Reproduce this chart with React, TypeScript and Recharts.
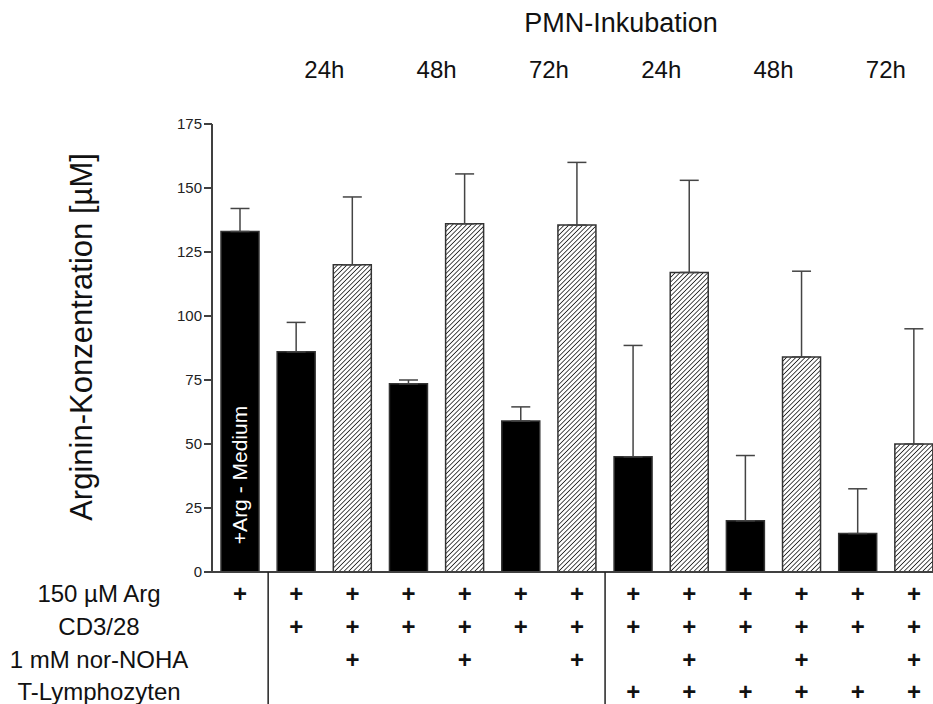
import React from 'react'
import { BarChart, Bar, XAxis, YAxis, Cell, ErrorBar, LabelList } from 'recharts'

const categories = [
  'Medium',
  'CD3/28 24h', 'CD3/28 + NOHA 24h',
  'CD3/28 48h', 'CD3/28 + NOHA 48h',
  'CD3/28 72h', 'CD3/28 + NOHA 72h',
  'T 24h', 'T + NOHA 24h',
  'T 48h', 'T + NOHA 48h',
  'T 72h', 'T + NOHA 72h',
]
const values = [133, 86, 120, 73.5, 136, 59, 135.5, 45, 117, 20, 84, 15, 50]
const errors = [9, 11.5, 26.5, 1.5, 19.5, 5.5, 24.5, 43.5, 36, 25.5, 33.5, 17.5, 45]
const hatched = [false, false, true, false, true, false, true, false, true, false, true, false, true]
const notes = ['+Arg - Medium', '', '', '', '', '', '', '', '', '', '', '', '']

const hourLabels = ['24h', '48h', '72h', '24h', '48h', '72h']
const yTicks = [0, 25, 50, 75, 100, 125, 150, 175]

const rowLabels = ['150 µM Arg', 'CD3/28', '1 mM nor-NOHA', 'T-Lymphozyten']
const rowArg = [1, 1, 1, 1, 1, 1, 1, 1, 1, 1, 1, 1, 1]
const rowCd3 = [0, 1, 1, 1, 1, 1, 1, 1, 1, 1, 1, 1, 1]
const rowNoha = [0, 0, 1, 0, 1, 0, 1, 0, 1, 0, 1, 0, 1]
const rowTLym = [0, 0, 0, 0, 0, 0, 0, 1, 1, 1, 1, 1, 1]
const rows = [rowArg, rowCd3, rowNoha, rowTLym]
const separatorsBefore = [1, 7]

const data = categories.map((name, i) => ({
  name,
  value: values[i],
  errRange: [0, errors[i]],
  note: notes[i],
}))

// layout
const FONT = '"Liberation Sans", Arial, Helvetica, sans-serif'
const CHART_W = 948
const CHART_H = 704
const Y_AXIS_W = 212
const MARGIN_R = 6
const TOP_H = 124
const BOTTOM_H = 132
const BAND = (CHART_W - Y_AXIS_W - MARGIN_R) / categories.length
const ROW_OFFSETS = [21, 54, 87, 119]
const AXIS_COLOR = '#404040'

const TopTick = (props: any) => {
  const { x, y, index } = props
  if (index % 2 !== 1) return <g />
  const label = hourLabels[(index - 1) / 2]
  return (
    <text x={x + BAND / 2} y={y - 46} textAnchor="middle" fontSize={24} fontFamily={FONT} fill="#111">
      {label}
    </text>
  )
}

const BottomTick = (props: any) => {
  const { x, y, index } = props
  return (
    <g>
      {separatorsBefore.includes(index) && (
        <line x1={x - BAND / 2} x2={x - BAND / 2} y1={y} y2={y + 140} stroke="#222" strokeWidth={1.5} />
      )}
      {rows.map((row, r) =>
        row[index] ? (
          <text
            key={r}
            x={x}
            y={y + ROW_OFFSETS[r]}
            textAnchor="middle"
            dominantBaseline="central"
            fontSize={24}
            fontWeight="bold"
            fontFamily={FONT}
            fill="#111"
          >
            +
          </text>
        ) : null
      )}
    </g>
  )
}

const renderNote = (props: any) => {
  const { x, y, width, height, value } = props
  if (!value) return null
  const cx = x + width / 2 + 7
  const cy = y + height - 97
  return (
    <text
      transform={`translate(${cx},${cy}) rotate(-90)`}
      textAnchor="middle"
      fontSize={21}
      fontFamily={FONT}
      fill="#fff"
    >
      {value}
    </text>
  )
}

export default function App() {
  return (
    <div style={{ position: 'fixed', left: 0, top: 0, width: 933, height: 704, overflow: 'hidden', background: '#fff' }}>
      <svg width={0} height={0} style={{ position: 'absolute' }}>
        <defs>
          <pattern id="hatch" patternUnits="userSpaceOnUse" width={3.3} height={3.3} patternTransform="rotate(45)">
            <rect width={3.3} height={3.3} fill="#fff" />
            <line x1={0} y1={0} x2={0} y2={3.3} stroke="#000" strokeWidth={1.4} />
          </pattern>
        </defs>
      </svg>
      <BarChart width={CHART_W} height={CHART_H} data={data} margin={{ top: 0, right: MARGIN_R, bottom: 0, left: 0 }}>
        <XAxis
          xAxisId="top"
          orientation="top"
          dataKey="name"
          height={TOP_H}
          axisLine={false}
          tickLine={false}
          tickSize={0}
          tickMargin={0}
          interval={0}
          tick={<TopTick />}
        />
        <XAxis
          dataKey="name"
          height={BOTTOM_H}
          axisLine={{ stroke: AXIS_COLOR, strokeWidth: 2 }}
          tickLine={false}
          tickSize={0}
          tickMargin={0}
          interval={0}
          tick={<BottomTick />}
        />
        <YAxis
          width={Y_AXIS_W}
          domain={[0, 175]}
          ticks={yTicks}
          interval={0}
          axisLine={{ stroke: AXIS_COLOR, strokeWidth: 2 }}
          tickLine={{ stroke: AXIS_COLOR, strokeWidth: 2 }}
          tickSize={8}
          tickMargin={2}
          tick={{ fontSize: 15, fontFamily: FONT, fill: '#222' }}
        />
        <Bar dataKey="value" barSize={38} stroke="#333" strokeWidth={1.5} isAnimationActive={false}>
          {data.map((d, i) => (
            <Cell key={d.name} fill={hatched[i] ? 'url(#hatch)' : '#000'} />
          ))}
          <ErrorBar dataKey="errRange" direction="y" width={9.5} stroke="#444" strokeWidth={1.5} />
          <LabelList dataKey="note" content={renderNote} />
        </Bar>
      </BarChart>
      <svg
        width={933}
        height={704}
        style={{ position: 'absolute', left: 0, top: 0, pointerEvents: 'none' }}
        fontFamily={FONT}
      >
        <text x={621} y={32} textAnchor="middle" fontSize={27} fill="#111">
          PMN-Inkubation
        </text>
        <text transform="translate(92,337) rotate(-90)" textAnchor="middle" fontSize={31} fill="#111">
          Arginin-Konzentration [µM]
        </text>
        {rowLabels.map((label, r) => (
          <text
            key={label}
            x={99}
            y={572 + ROW_OFFSETS[r]}
            textAnchor="middle"
            dominantBaseline="central"
            fontSize={24}
            fill="#111"
          >
            {label}
          </text>
        ))}
      </svg>
    </div>
  )
}
